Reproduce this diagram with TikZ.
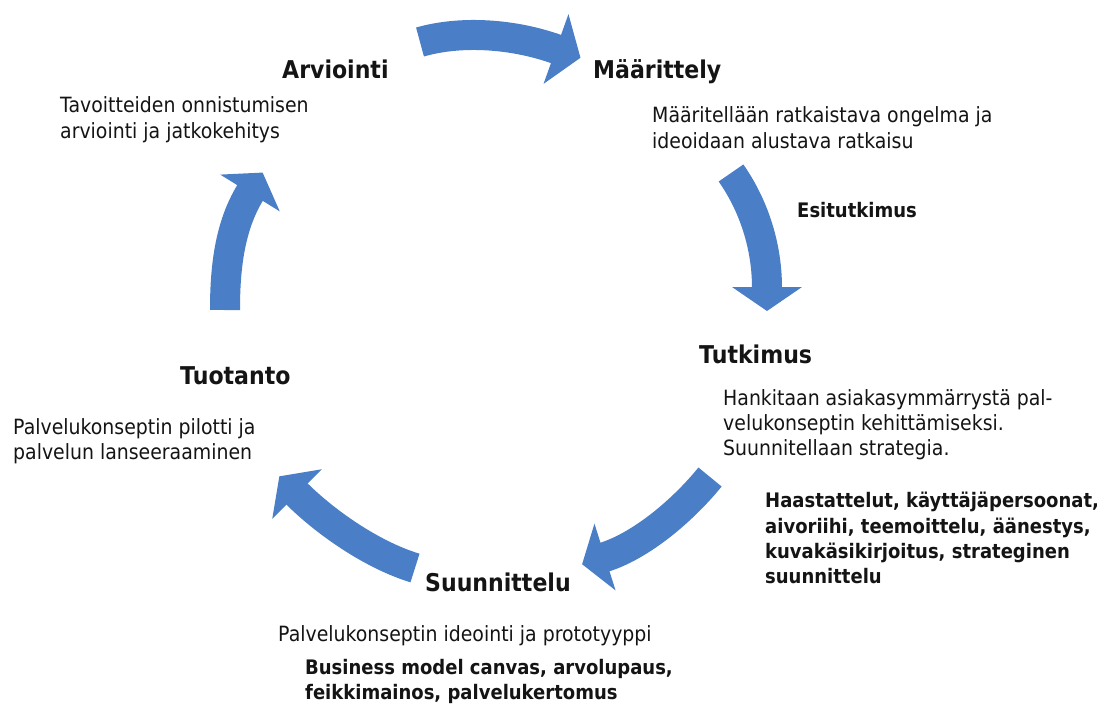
\documentclass[tikz,border=0pt]{standalone}
\usepackage{fontspec}
\setmainfont{DejaVu Sans}[FakeStretch=0.9]
\usetikzlibrary{calc}
\definecolor{arrowblue}{RGB}{74,126,199}
\definecolor{txt}{RGB}{20,20,20}
\tikzset{
  head/.style={font=\bfseries\fontsize{24.5}{29}\selectfont, text=txt, anchor=base west, inner sep=0pt},
  body/.style={font=\fontsize{21}{26}\selectfont, text=txt, anchor=base west, inner sep=0pt},
  tool/.style={font=\bfseries\fontsize{20}{25}\selectfont, text=txt, anchor=base west, inner sep=0pt},
  band/.style={draw=arrowblue, line width=30pt, line cap=butt},
}
% #1 name prefix, #2 head half width, #3 head length
\newcommand\arrowhead[3]{%
  \fill[arrowblue] ($(#1e)!#2pt!90:(#1c)$) -- ($(#1e)!-#3pt!(#1c)$) -- ($(#1e)!#2pt!-90:(#1c)$) -- cycle;}
\begin{document}
\begin{tikzpicture}[x=1pt,y=-1pt]
\useasboundingbox (0,0) rectangle (1101,709);
% arrow 1 (top)
\coordinate (As) at (420,42); \coordinate (Ab) at (462,30); \coordinate (Ac) at (514,34); \coordinate (Ae) at (556,49);
\draw[band] (As) .. controls (Ab) and (Ac) .. ($(Ae)!-1pt!(Ac)$);
\arrowhead{A}{37}{26}
% arrow 2 (right)
\coordinate (Bs) at (731,173); \coordinate (Bb) at (750,200); \coordinate (Bc) at (767,240); \coordinate (Be) at (767,287);
\draw[band] (Bs) .. controls (Bb) and (Bc) .. ($(Be)!-1pt!(Bc)$);
\arrowhead{B}{35}{24}
% arrow 3 (bottom right)
\coordinate (Cs) at (710,477); \coordinate (Cb) at (685,508); \coordinate (Cc) at (643,545); \coordinate (Ce) at (605,557);
\draw[band] (Cs) .. controls (Cb) and (Cc) .. ($(Ce)!-1pt!(Cc)$);
\arrowhead{C}{35}{24}
% arrow 4 (bottom left)
\coordinate (Ds) at (415,568); \coordinate (Db) at (372,555); \coordinate (Dc) at (325,522); \coordinate (De) at (297,494);
\draw[band] (Ds) .. controls (Db) and (Dc) .. ($(De)!-1pt!(Dc)$);
\arrowhead{D}{35}{25}
% arrow 5 (left)
\coordinate (Es) at (225,310); \coordinate (Eb) at (225,270); \coordinate (Ec) at (229,227); \coordinate (Ee) at (250,193);
\draw[band] (Es) .. controls (Eb) and (Ec) .. ($(Ee)!-1pt!(Ec)$);
\arrowhead{E}{35}{24}

% Arviointi
\node[head] (arv) at (282,78) {Arviointi};
\node[body] (arv1) at (60,113) {Tavoitteiden onnistumisen};
\node[body] (arv2) at (60,139) {arviointi ja jatkokehitys};
% Maarittely
\node[head] (maa) at (593,78) {Määrittely};
\node[body] (maa1) at (652,122) {Määritellään ratkaistava ongelma ja};
\node[body] (maa2) at (652,148) {ideoidaan alustava ratkaisu};
\node[tool] (esi) at (797,217) {Esitutkimus};
% Tutkimus
\node[head] (tut) at (699,363) {Tutkimus};
\node[body] (tut1) at (723,405) {Hankitaan asiakasymmärrystä pal-};
\node[body] (tut2) at (723,430) {velukonseptin kehittämiseksi.};
\node[body] (tut3) at (723,455) {Suunnitellaan strategia.};
\node[tool] (tut4) at (765,507) {Haastattelut, käyttäjäpersoonat,};
\node[tool] (tut5) at (765,533) {aivoriihi, teemoittelu, äänestys,};
\node[tool] (tut6) at (765,558) {kuvakäsikirjoitus, strateginen};
\node[tool] (tut7) at (765,583) {suunnittelu};
% Suunnittelu
\node[head] (suu) at (425,591) {Suunnittelu};
\node[body] (suu1) at (278,641) {Palvelukonseptin ideointi ja prototyyppi};
\node[tool] (suu2) at (305,674) {Business model canvas, arvolupaus,};
\node[tool] (suu3) at (305,699) {feikkimainos, palvelukertomus};
% Tuotanto
\node[head] (tuo) at (180,384) {Tuotanto};
\node[body] (tuo1) at (13,434) {Palvelukonseptin pilotti ja};
\node[body] (tuo2) at (13,459) {palvelun lanseeraaminen};
\end{tikzpicture}
\end{document}
